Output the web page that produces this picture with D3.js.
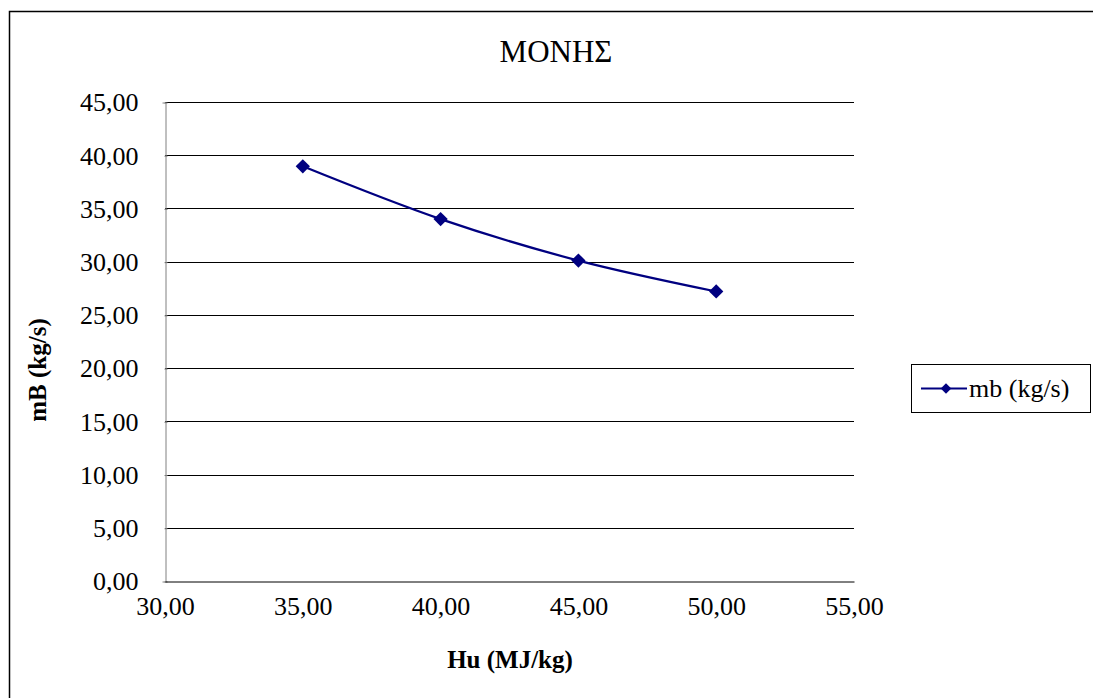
<!DOCTYPE html>
<html>
<head>
<meta charset="utf-8">
<script src="https://cdn.jsdelivr.net/npm/d3@7"></script>
<style>
  body { margin: 0; background: #fff; }
  svg text { font-family: "Liberation Serif", "DejaVu Serif", Tinos, serif; fill: #000; }
</style>
</head>
<body>
<div id="chart"></div>
<script>
// data
var hu = [35, 40, 45, 50];
var mb = [38.96, 34.0, 30.1, 27.2];
var xTicks = [30, 35, 40, 45, 50, 55];
var yTicks = [0, 5, 10, 15, 20, 25, 30, 35, 40, 45];
var seriesName = "mb (kg/s)";

var W = 1093, H = 698;
var serif = "'Liberation Serif', 'DejaVu Serif', Tinos, serif";

var svg = d3.select("#chart").append("svg")
    .attr("width", W)
    .attr("height", H);

// outer frame
svg.append("rect")
    .attr("x", 9.5).attr("y", 11.5)
    .attr("width", W).attr("height", H)
    .attr("fill", "none")
    .attr("stroke", "#000")
    .attr("stroke-width", 1.5);

var x = d3.scaleLinear().domain([30, 55]).range([165, 854]);
var y = d3.scaleLinear().domain([0, 45]).range([581, 102]);

var fmt = function(d) { return d3.format(".2f")(d).replace(".", ","); };

// gridlines
svg.append("g")
  .selectAll("line")
  .data(yTicks.filter(function(d) { return d > 0; }))
  .enter().append("line")
    .attr("x1", x(30)).attr("x2", x(55))
    .attr("y1", function(d) { return Math.round(y(d)) + 0.5; })
    .attr("y2", function(d) { return Math.round(y(d)) + 0.5; })
    .attr("stroke", "#000")
    .attr("stroke-width", 1);

// y axis
var yAxis = svg.append("g")
    .attr("transform", "translate(" + (x(30) + 0.5) + ",0.5)")
    .call(d3.axisLeft(y).tickValues(yTicks).tickFormat(fmt).tickSize(3).tickPadding(24));
yAxis.attr("font-family", serif);
yAxis.select(".domain").attr("stroke", "#808080");
yAxis.selectAll(".tick line").attr("stroke", "#808080").attr("transform", "translate(2,0)");
yAxis.selectAll("text")
    .style("font-family", serif)
    .style("font-size", "26px")
    .attr("fill", "#000");

// x axis
var xAxis = svg.append("g")
    .attr("transform", "translate(0," + (y(0) + 0.5) + ")")
    .call(d3.axisBottom(x).tickValues(xTicks).tickFormat(fmt).tickSize(0).tickPadding(15));
xAxis.attr("font-family", serif);
xAxis.select(".domain").attr("stroke", "#000");
xAxis.selectAll("text")
    .style("font-family", serif)
    .style("font-size", "26px")
    .attr("fill", "#000");

// series line
var pts = hu.map(function(d, i) { return [d, mb[i]]; });
svg.append("path")
    .datum(pts)
    .attr("fill", "none")
    .attr("stroke", "#000080")
    .attr("stroke-width", 2.2)
    .attr("d", d3.line()
        .x(function(d) { return x(d[0]); })
        .y(function(d) { return y(d[1]); })
        .curve(d3.curveCatmullRom.alpha(0.5)));

var diamond = d3.symbol().type(d3.symbolDiamond2).size(130);
svg.append("g")
  .selectAll("path")
  .data(pts)
  .enter().append("path")
    .attr("d", diamond)
    .attr("transform", function(d) { return "translate(" + x(d[0]) + "," + y(d[1]) + ")"; })
    .attr("fill", "#000080");

// titles
svg.append("text")
    .attr("x", 556).attr("y", 62)
    .attr("text-anchor", "middle")
    .style("font-family", serif)
    .style("font-size", "31px")
    .text("ΜΟΝΗΣ");

svg.append("text")
    .attr("transform", "translate(46,370) rotate(-90)")
    .attr("text-anchor", "middle")
    .style("font-family", serif)
    .style("font-size", "25px")
    .style("font-weight", "bold")
    .text("mB (kg/s)");

svg.append("text")
    .attr("x", 510).attr("y", 668)
    .attr("text-anchor", "middle")
    .style("font-family", serif)
    .style("font-size", "25px")
    .style("font-weight", "bold")
    .text("Hu (MJ/kg)");

// legend
var lg = svg.append("g").attr("transform", "translate(911,364)");
lg.append("rect")
    .attr("x", 0.5).attr("y", 0.5)
    .attr("width", 179).attr("height", 48)
    .attr("fill", "#fff")
    .attr("stroke", "#000");
lg.append("line")
    .attr("x1", 10).attr("x2", 56)
    .attr("y1", 24.5).attr("y2", 24.5)
    .attr("stroke", "#000080")
    .attr("stroke-width", 2.2);
lg.append("path")
    .attr("d", d3.symbol().type(d3.symbolDiamond2).size(70))
    .attr("transform", "translate(35,24.5)")
    .attr("fill", "#000080");
lg.append("text")
    .attr("x", 58).attr("y", 33)
    .style("font-family", serif)
    .style("font-size", "26px")
    .text(seriesName);
</script>
</body>
</html>
